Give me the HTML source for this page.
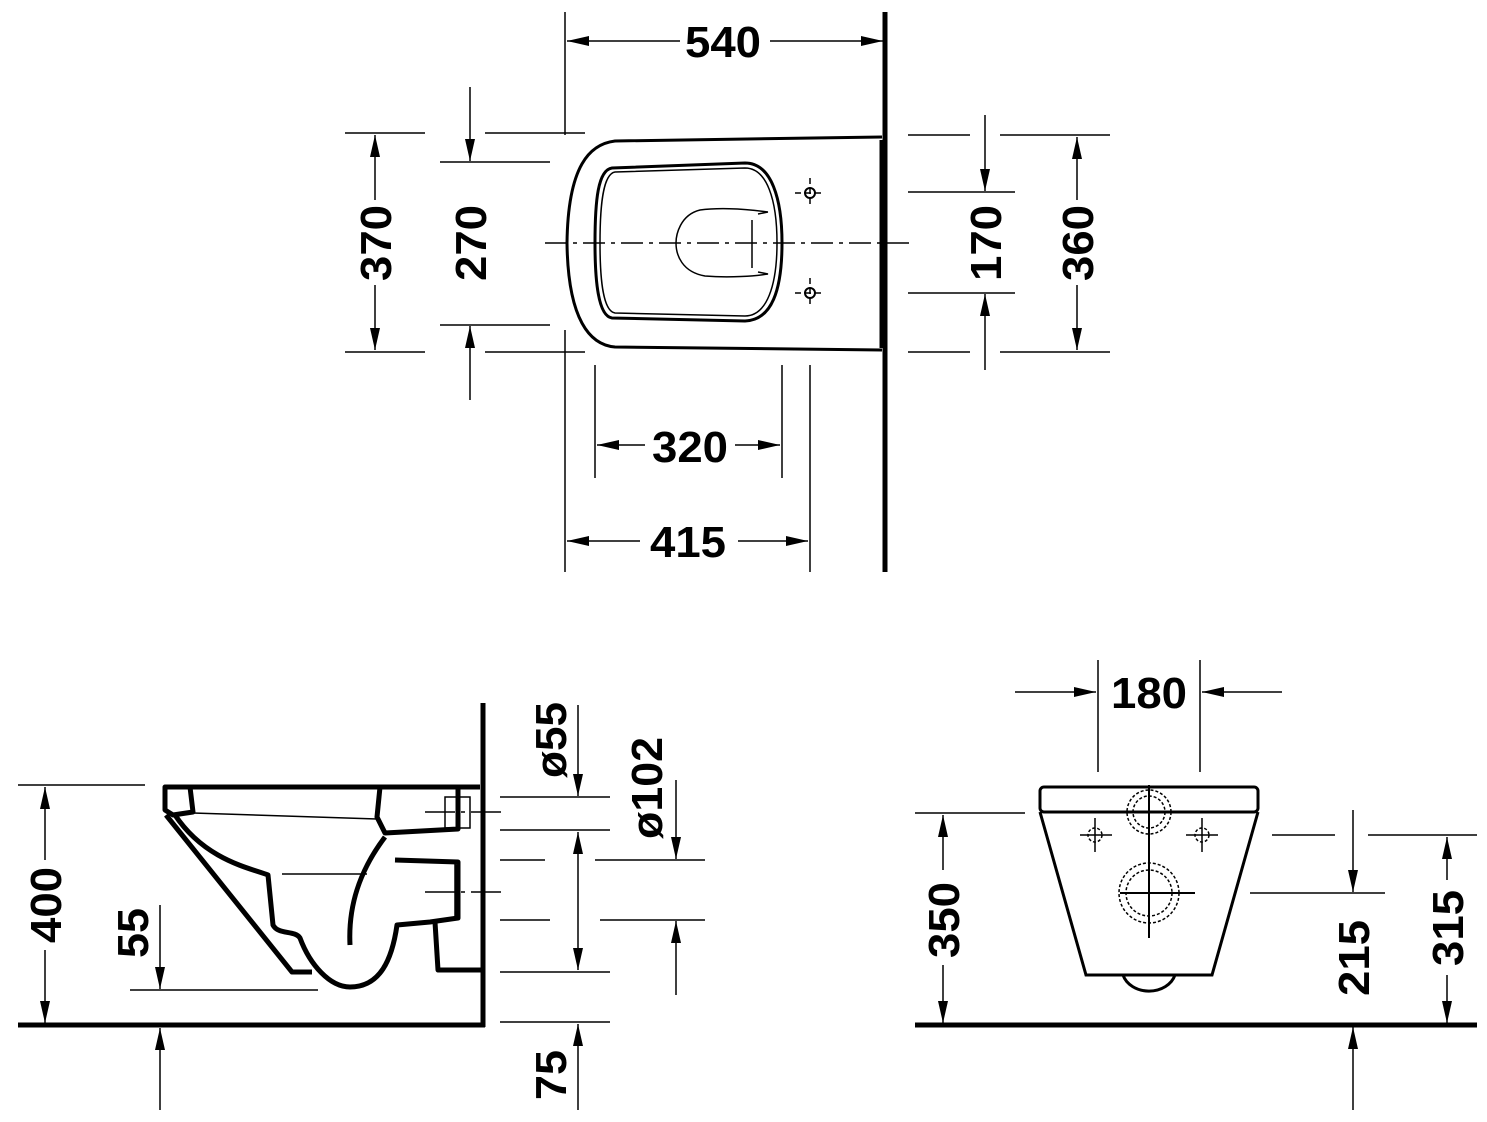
<!DOCTYPE html>
<html><head><meta charset="utf-8"><style>
html,body{margin:0;padding:0;background:#fff}
svg{display:block}
text{font-family:"Liberation Sans",sans-serif;font-weight:bold;font-size:44px;fill:#000}
</style></head><body>
<svg width="1487" height="1122" viewBox="0 0 1487 1122" xmlns="http://www.w3.org/2000/svg">
<defs>
<marker id="a" viewBox="0 0 22 10" refX="22" refY="5" markerWidth="22" markerHeight="10" markerUnits="userSpaceOnUse" orient="auto"><path d="M0,0 L22,5 L0,10 z" fill="#000"/></marker>
</defs>
<g stroke="#000" fill="none" stroke-width="1.5">
<!-- TOP VIEW -->
<line x1="885" y1="12" x2="885" y2="572" stroke-width="5"/>
<line x1="565" y1="12" x2="565" y2="135"/>
<line x1="565" y1="330" x2="565" y2="572"/>
<line x1="680" y1="41" x2="567" y2="41" marker-end="url(#a)"/>
<line x1="770" y1="41" x2="883" y2="41" marker-end="url(#a)"/>
<path d="M882,137 L615,141 C590,144 568,165 567,243 C568,320 590,345 615,347 L882,350" stroke-width="3"/>
<line x1="882" y1="140" x2="882" y2="348" stroke-width="5"/>
<path d="M612,168 L745,163 C772,163 782,200 782,243 C782,290 772,320 745,321 L612,318 C598,316 595,280 595,243 C595,200 598,170 612,168 Z" stroke-width="3"/>
<path d="M615,172 L745,168 C767,168 777,200 777,243 C777,285 767,316 745,316 L615,313 C603,311 600,280 600,243 C600,205 603,174 615,172 Z" stroke-width="1.5"/>
<path d="M768,212 C740,208 715,208 700,210 C680,215 676,235 676,243 C676,255 682,272 705,276 C730,278 755,276 768,274 L758,272 M758,214 L768,212" stroke-width="1.5"/>
<line x1="752" y1="220" x2="752" y2="268"/>
<line x1="545" y1="243" x2="912" y2="243" stroke-dasharray="22,6,4,6"/>
<circle cx="810" cy="193" r="5" stroke-width="2"/><line x1="795" y1="193" x2="825" y2="193" stroke-dasharray="6,4"/><line x1="810" y1="178" x2="810" y2="208" stroke-dasharray="6,4"/>
<circle cx="810" cy="293" r="5" stroke-width="2"/><line x1="795" y1="293" x2="825" y2="293" stroke-dasharray="6,4"/><line x1="810" y1="278" x2="810" y2="308" stroke-dasharray="6,4"/>
<line x1="345" y1="133" x2="425" y2="133"/><line x1="485" y1="133" x2="585" y2="133"/>
<line x1="345" y1="352" x2="425" y2="352"/><line x1="485" y1="352" x2="585" y2="352"/>
<line x1="375" y1="200" x2="375" y2="135" marker-end="url(#a)"/>
<line x1="375" y1="285" x2="375" y2="350" marker-end="url(#a)"/>
<line x1="440" y1="162" x2="550" y2="162"/><line x1="440" y1="325" x2="550" y2="325"/>
<line x1="470" y1="87" x2="470" y2="161" marker-end="url(#a)"/>
<line x1="470" y1="400" x2="470" y2="326" marker-end="url(#a)"/>
<line x1="908" y1="135" x2="970" y2="135"/><line x1="1000" y1="135" x2="1110" y2="135"/>
<line x1="908" y1="352" x2="970" y2="352"/><line x1="1000" y1="352" x2="1110" y2="352"/>
<line x1="1077" y1="200" x2="1077" y2="137" marker-end="url(#a)"/>
<line x1="1077" y1="285" x2="1077" y2="350" marker-end="url(#a)"/>
<line x1="908" y1="192" x2="1015" y2="192"/><line x1="908" y1="293" x2="1015" y2="293"/>
<line x1="985" y1="115" x2="985" y2="191" marker-end="url(#a)"/>
<line x1="985" y1="370" x2="985" y2="294" marker-end="url(#a)"/>
<line x1="595" y1="365" x2="595" y2="478"/><line x1="782" y1="365" x2="782" y2="478"/>
<line x1="645" y1="445" x2="597" y2="445" marker-end="url(#a)"/>
<line x1="735" y1="445" x2="780" y2="445" marker-end="url(#a)"/>
<line x1="810" y1="365" x2="810" y2="572"/>
<line x1="640" y1="541" x2="567" y2="541" marker-end="url(#a)"/>
<line x1="738" y1="541" x2="808" y2="541" marker-end="url(#a)"/>

<!-- SIDE VIEW -->
<line x1="483" y1="703" x2="483" y2="1027" stroke-width="5"/>
<line x1="18" y1="1025" x2="485" y2="1025" stroke-width="5"/>
<line x1="18" y1="785" x2="145" y2="785"/>
<line x1="45" y1="860" x2="45" y2="787" marker-end="url(#a)"/>
<line x1="45" y1="950" x2="45" y2="1023" marker-end="url(#a)"/>
<line x1="160" y1="905" x2="160" y2="989" marker-end="url(#a)"/>
<line x1="130" y1="990" x2="318" y2="990"/>
<line x1="160" y1="1110" x2="160" y2="1028" marker-end="url(#a)"/>
<g stroke-width="5" stroke-linejoin="round">
<path d="M182,787 L480,787"/>
<path d="M165,787 L190,787 L193,812 L173,815 L165,810 Z"/>
<path d="M166,815 L292,972 L312,972"/>
<path d="M175,815 C205,860 250,868 268,875 L273,925 C278,935 295,930 300,938 C310,965 330,987 350,987 C380,987 392,960 397,925 L430,922 L458,918 L458,862 L395,860"/>
<path d="M380,787 L377,817 L385,833 L458,829 L458,787"/>
<path d="M385,837 C360,870 348,905 350,945"/>
<path d="M435,922 L438,970 L483,970"/>
</g>
<path d="M193,813 L377,819"/>
<path d="M282,874 L367,874"/>
<path d="M445,797 L470,797 L470,828 L445,828 Z"/>
<path d="M455,862 L455,918"/>
<line x1="425" y1="812" x2="505" y2="812" stroke-dasharray="30,6,4,6"/>
<line x1="425" y1="892" x2="505" y2="892" stroke-dasharray="30,6,4,6"/>
<line x1="500" y1="797" x2="610" y2="797"/><line x1="500" y1="830" x2="610" y2="830"/>
<line x1="500" y1="860" x2="545" y2="860"/><line x1="595" y1="860" x2="705" y2="860"/>
<line x1="500" y1="920" x2="550" y2="920"/><line x1="600" y1="920" x2="705" y2="920"/>
<line x1="500" y1="972" x2="610" y2="972"/><line x1="500" y1="1022" x2="610" y2="1022"/>
<line x1="578" y1="705" x2="578" y2="796" marker-end="url(#a)"/>
<line x1="578" y1="900" x2="578" y2="832" marker-end="url(#a)"/>
<line x1="578" y1="900" x2="578" y2="970" marker-end="url(#a)"/>
<line x1="578" y1="1110" x2="578" y2="1024" marker-end="url(#a)"/>
<line x1="676" y1="780" x2="676" y2="859" marker-end="url(#a)"/>
<line x1="676" y1="995" x2="676" y2="921" marker-end="url(#a)"/>

<!-- FRONT VIEW -->
<line x1="915" y1="1025" x2="1477" y2="1025" stroke-width="5"/>
<g stroke-width="3">
<rect x="1040" y="787" width="218" height="25" rx="4"/>
<path d="M1040,812 L1086,975 L1212,975 L1258,812"/>
<path d="M1123,975 A27,22 0 0 0 1175,975"/>
</g>
<g stroke-dasharray="3,2">
<circle cx="1149" cy="812" r="22"/><circle cx="1149" cy="812" r="16"/>
<circle cx="1149" cy="893" r="30"/><circle cx="1149" cy="893" r="23"/>
<circle cx="1095" cy="835" r="7"/><circle cx="1202" cy="835" r="7"/>
</g>
<line x1="1149" y1="785" x2="1149" y2="938" stroke-width="2"/>
<line x1="1120" y1="893" x2="1195" y2="893" stroke-width="2"/>
<line x1="1080" y1="835" x2="1112" y2="835"/><line x1="1095" y1="818" x2="1095" y2="852"/>
<line x1="1186" y1="835" x2="1218" y2="835"/><line x1="1202" y1="818" x2="1202" y2="852"/>
<line x1="1098" y1="660" x2="1098" y2="772"/><line x1="1200" y1="660" x2="1200" y2="772"/>
<line x1="1015" y1="692" x2="1096" y2="692" marker-end="url(#a)"/>
<line x1="1282" y1="692" x2="1202" y2="692" marker-end="url(#a)"/>
<line x1="915" y1="813" x2="1025" y2="813"/>
<line x1="943" y1="870" x2="943" y2="815" marker-end="url(#a)"/>
<line x1="943" y1="965" x2="943" y2="1023" marker-end="url(#a)"/>
<line x1="1272" y1="835" x2="1335" y2="835"/><line x1="1368" y1="835" x2="1477" y2="835"/>
<line x1="1250" y1="893" x2="1385" y2="893"/>
<line x1="1353" y1="810" x2="1353" y2="892" marker-end="url(#a)"/>
<line x1="1353" y1="1110" x2="1353" y2="1027" marker-end="url(#a)"/>
<line x1="1447" y1="880" x2="1447" y2="837" marker-end="url(#a)"/>
<line x1="1447" y1="975" x2="1447" y2="1023" marker-end="url(#a)"/>
</g>
<g>
<text x="723" y="57" text-anchor="middle" textLength="76" lengthAdjust="spacingAndGlyphs">540</text>
<text x="690" y="462" text-anchor="middle" textLength="76" lengthAdjust="spacingAndGlyphs">320</text>
<text x="688" y="557" text-anchor="middle" textLength="76" lengthAdjust="spacingAndGlyphs">415</text>
<text transform="translate(391,243) rotate(-90)" text-anchor="middle" textLength="76" lengthAdjust="spacingAndGlyphs">370</text>
<text transform="translate(486,243) rotate(-90)" text-anchor="middle" textLength="76" lengthAdjust="spacingAndGlyphs">270</text>
<text transform="translate(1001,243) rotate(-90)" text-anchor="middle" textLength="76" lengthAdjust="spacingAndGlyphs">170</text>
<text transform="translate(1093,243) rotate(-90)" text-anchor="middle" textLength="76" lengthAdjust="spacingAndGlyphs">360</text>
<text transform="translate(61,905) rotate(-90)" text-anchor="middle" textLength="76" lengthAdjust="spacingAndGlyphs">400</text>
<text transform="translate(148,933) rotate(-90)" text-anchor="middle" textLength="50" lengthAdjust="spacingAndGlyphs">55</text>
<text transform="translate(566,740) rotate(-90)" text-anchor="middle" textLength="76" lengthAdjust="spacingAndGlyphs">ø55</text>
<text transform="translate(662,788) rotate(-90)" text-anchor="middle" textLength="102" lengthAdjust="spacingAndGlyphs">ø102</text>
<text transform="translate(566,1075) rotate(-90)" text-anchor="middle" textLength="50" lengthAdjust="spacingAndGlyphs">75</text>
<text x="1149" y="708" text-anchor="middle" textLength="76" lengthAdjust="spacingAndGlyphs">180</text>
<text transform="translate(959,920) rotate(-90)" text-anchor="middle" textLength="76" lengthAdjust="spacingAndGlyphs">350</text>
<text transform="translate(1369,958) rotate(-90)" text-anchor="middle" textLength="76" lengthAdjust="spacingAndGlyphs">215</text>
<text transform="translate(1463,928) rotate(-90)" text-anchor="middle" textLength="76" lengthAdjust="spacingAndGlyphs">315</text>
</g>
</svg>
</body></html>
